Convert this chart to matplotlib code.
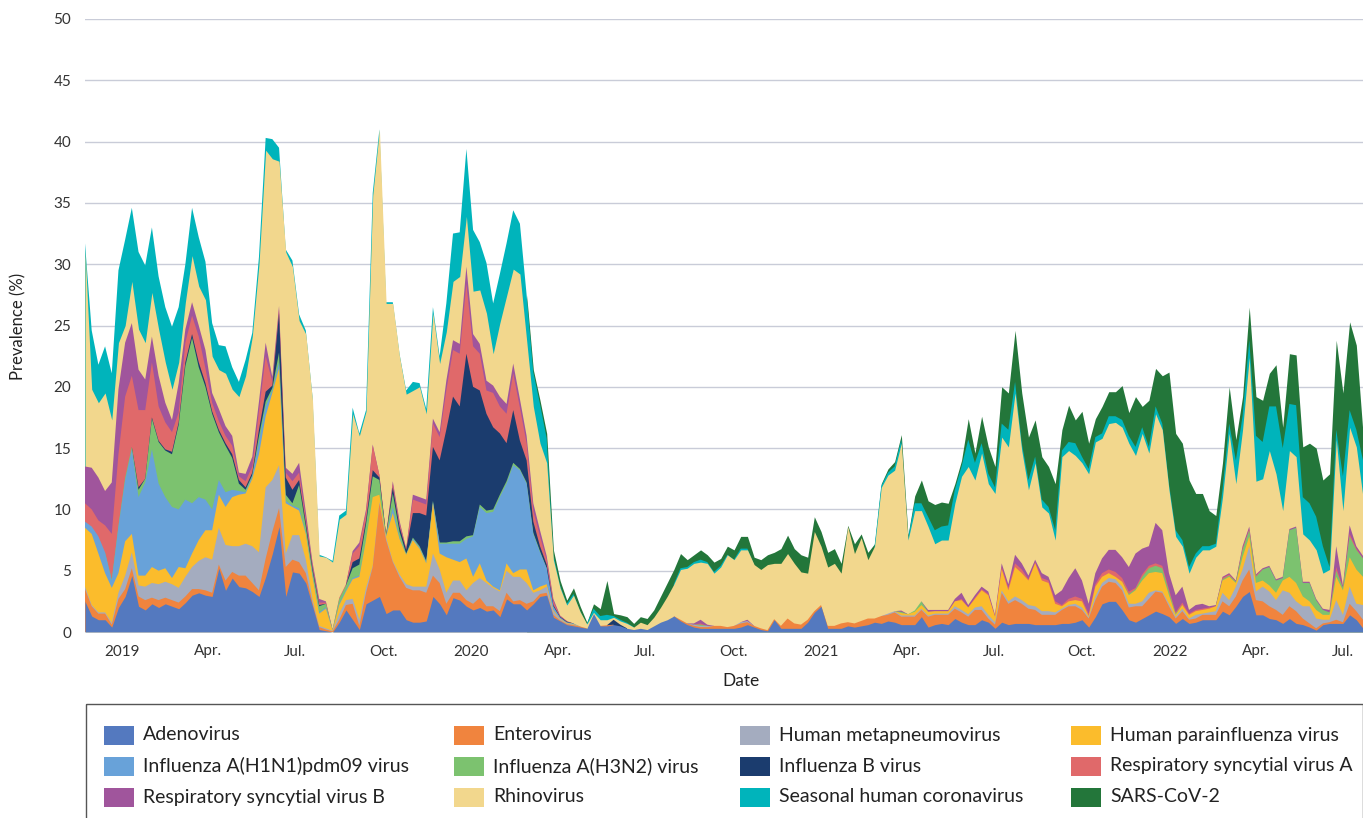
import numpy as np
import pandas as pd
import matplotlib
matplotlib.use("Agg")
from matplotlib import pyplot as plt
from matplotlib.patches import Rectangle

plt.rcParams['font.family'] = ['Lato', 'DejaVu Sans']

# weekly prevalence (%) per virus
weeks = pd.date_range('2018-11-23', periods=192, freq='7D')

adenovirus = [
    2.5, 1.3, 1.0, 1.0, 0.4, 2.0, 2.9, 4.6, 2.1, 1.8,
    2.3, 2.0, 2.3, 2.1, 1.9, 2.4, 3.0, 3.2, 3.0, 2.9,
    5.2, 3.4, 4.4, 3.7, 3.6, 3.3, 2.9, 4.5, 6.4, 8.6,
    2.9, 4.9, 4.8, 4.0, 2.1, 0.2, 0.1, 0.0, 0.8, 1.8,
    1.0, 0.2, 2.3, 2.6, 2.9, 1.5, 1.8, 1.8, 1.0, 0.8,
    0.8, 0.9, 2.9, 2.3, 1.4, 2.8, 2.6, 2.1, 1.8, 2.0,
    1.7, 1.8, 1.25, 2.7, 2.3, 2.3, 1.8, 2.3, 2.9, 3.0,
    1.2, 0.9, 0.6, 0.5, 0.4, 0.3, 1.5, 0.5, 0.5, 0.6,
    0.5, 0.3, 0.2, 0.3, 0.2, 0.5, 0.8, 1.0, 1.3, 0.9,
    0.6, 0.4, 0.3, 0.3, 0.3, 0.3, 0.3, 0.3, 0.4, 0.6,
    0.4, 0.2, 0.1, 1.0, 0.3, 0.3, 0.3, 0.3, 0.8, 1.6,
    2.1, 0.3, 0.3, 0.3, 0.5, 0.4, 0.5, 0.6, 0.8, 0.7,
    0.9, 0.8, 0.6, 0.6, 0.6, 1.25, 0.4, 0.6, 0.7, 0.6,
    1.1, 0.8, 0.6, 0.6, 1.0, 0.8, 0.3, 0.8, 0.6, 0.7,
    0.7, 0.7, 0.6, 0.6, 0.6, 0.6, 0.7, 0.7, 0.8, 1.0,
    0.4, 1.25, 2.3, 2.5, 2.5, 1.8, 1.0, 0.8, 1.1, 1.4,
    1.7, 1.5, 1.25, 0.7, 1.1, 0.7, 0.8, 1.0, 1.0, 1.0,
    1.7, 1.4, 2.1, 2.9, 3.3, 1.4, 1.4, 1.1, 1.0, 0.7,
    1.1, 0.7, 0.6, 0.4, 0.15, 0.6, 0.7, 0.7, 0.7, 1.4,
    1.0, 0.3]

enterovirus = [
    1.0, 0.8, 0.5, 0.5, 0.2, 0.7, 0.6, 0.6, 0.8, 0.8,
    0.5, 0.6, 0.5, 0.5, 0.5, 0.5, 0.5, 0.3, 0.4, 0.3,
    0.3, 0.8, 0.5, 0.9, 1.0, 0.7, 0.5, 1.5, 1.8, 1.5,
    2.4, 1.0, 0.9, 0.8, 0.3, 0.2, 0.1, 0.05, 0.2, 0.4,
    1.3, 0.3, 0.9, 2.7, 7.6, 6.0, 3.9, 2.7, 2.6, 2.6,
    2.6, 2.3, 1.7, 1.7, 0.9, 0.4, 0.6, 0.5, 0.5, 0.8,
    0.4, 0.3, 0.45, 0.5, 0.2, 0.3, 0.5, 0.2, 0.2, 0.2,
    0.2, 0.05, 0.05, 0.05, 0.05, 0.0, 0.0, 0.0, 0.05, 0.0,
    0.0, 0.0, 0.0, 0.0, 0.0, 0.0, 0.0, 0.0, 0.0, 0.1,
    0.1, 0.1, 0.1, 0.1, 0.2, 0.2, 0.1, 0.2, 0.3, 0.2,
    0.1, 0.1, 0.05, 0.05, 0.2, 0.8, 0.4, 0.3, 0.2, 0.1,
    0.1, 0.2, 0.2, 0.4, 0.3, 0.3, 0.4, 0.5, 0.3, 0.6,
    0.5, 0.8, 0.65, 0.65, 0.65, 0.55, 0.85, 0.8, 0.7, 0.8,
    0.8, 0.8, 0.65, 1.2, 0.8, 0.3, 0.3, 2.4, 1.7, 1.9,
    1.6, 1.2, 1.2, 0.8, 0.8, 0.8, 1.1, 1.4, 1.3, 0.8,
    0.7, 1.35, 1.4, 1.6, 1.5, 1.6, 1.0, 1.3, 1.0, 1.3,
    1.6, 1.7, 0.85, 0.4, 0.6, 0.3, 0.3, 0.4, 0.4, 0.4,
    0.8, 0.7, 0.8, 1.3, 1.8, 1.2, 1.1, 1.0, 0.8, 0.7,
    1.0, 1.0, 0.5, 0.3, 0.15, 0.1, 0.1, 0.3, 0.1, 0.9,
    0.7, 0.7]

metapneumovirus = [
    0.2, 0.1, 0.1, 0.1, 0.15, 0.5, 1.1, 1.3, 0.9, 1.1,
    1.2, 1.3, 1.3, 1.3, 1.2, 1.6, 1.8, 2.3, 2.7, 2.7,
    3.0, 2.9, 2.1, 2.4, 2.6, 3.0, 3.1, 5.8, 4.2, 3.5,
    1.1, 2.0, 2.2, 1.1, 0.3, 0.1, 0.1, 0.05, 0.5, 0.4,
    0.4, 0.5, 0.4, 0.1, 0.1, 0.2, 0.1, 0.2, 0.3, 0.3,
    0.3, 0.5, 1.8, 1.1, 0.9, 1.0, 1.0, 0.8, 1.7, 1.6,
    1.9, 1.5, 1.6, 1.8, 2.0, 1.9, 1.7, 0.7, 0.3, 0.5,
    0.3, 0.1, 0.05, 0.05, 0.0, 0.0, 0.0, 0.0, 0.0, 0.0,
    0.0, 0.0, 0.0, 0.0, 0.0, 0.0, 0.0, 0.0, 0.0, 0.0,
    0.0, 0.1, 0.1, 0.1, 0.0, 0.0, 0.0, 0.0, 0.1, 0.1,
    0.0, 0.0, 0.0, 0.0, 0.0, 0.0, 0.0, 0.0, 0.0, 0.0,
    0.0, 0.0, 0.0, 0.0, 0.0, 0.0, 0.0, 0.0, 0.0, 0.0,
    0.1, 0.1, 0.1, 0.1, 0.1, 0.1, 0.1, 0.1, 0.1, 0.1,
    0.2, 0.2, 0.2, 0.2, 0.3, 0.3, 0.2, 0.2, 0.2, 0.3,
    0.3, 0.3, 0.3, 0.3, 0.3, 0.2, 0.1, 0.1, 0.2, 0.2,
    0.1, 0.3, 0.3, 0.3, 0.3, 0.3, 0.3, 0.2, 0.4, 0.5,
    0.1, 0.1, 0.2, 0.15, 0.2, 0.1, 0.3, 0.1, 0.2, 0.3,
    0.7, 0.5, 0.8, 0.9, 1.9, 0.7, 1.2, 1.2, 0.8, 2.0,
    1.1, 0.8, 1.0, 1.4, 0.8, 0.3, 0.2, 1.6, 0.6, 1.4,
    0.6, 1.2]

parainfluenza = [
    4.8, 5.8, 4.8, 3.2, 2.85, 1.6, 2.8, 1.5, 0.8, 0.9,
    1.3, 1.1, 1.1, 0.5, 1.7, 0.7, 1.1, 1.7, 2.2, 2.4,
    2.7, 3.1, 4.0, 4.2, 4.1, 5.5, 8.0, 5.8, 7.1, 7.9,
    4.1, 2.3, 2.0, 2.1, 1.8, 1.0, 1.6, 0.05, 0.7, 0.7,
    1.6, 3.5, 3.9, 5.6, 0.6, 0.1, 3.9, 2.9, 2.4, 3.8,
    3.1, 1.9, 4.1, 1.3, 2.9, 1.7, 1.5, 2.6, 0.5, 1.2,
    0.2, 0.1, 0.1, 0.6, 0.3, 0.6, 1.1, 0.2, 0.3, 0.2,
    0.1, 0.05, 0.05, 0.05, 0.0, 0.0, 0.0, 0.0, 0.0, 0.0,
    0.0, 0.0, 0.0, 0.0, 0.0, 0.0, 0.0, 0.0, 0.0, 0.0,
    0.0, 0.0, 0.0, 0.0, 0.0, 0.0, 0.0, 0.0, 0.0, 0.0,
    0.0, 0.0, 0.0, 0.0, 0.0, 0.0, 0.0, 0.0, 0.0, 0.0,
    0.0, 0.0, 0.0, 0.0, 0.0, 0.0, 0.0, 0.0, 0.0, 0.0,
    0.0, 0.0, 0.2, 0.1, 0.3, 0.3, 0.3, 0.2, 0.2, 0.2,
    0.4, 0.8, 0.55, 0.7, 1.3, 1.6, 0.45, 1.7, 0.9, 2.4,
    2.2, 2.0, 3.5, 2.5, 2.3, 0.7, 0.2, 0.3, 0.3, 0.5,
    0.1, 0.8, 0.5, 0.4, 0.2, 0.4, 0.7, 1.1, 1.7, 1.6,
    1.5, 1.5, 0.7, 0.15, 0.3, 0.3, 0.3, 0.3, 0.3, 0.4,
    1.0, 1.9, 0.3, 1.0, 0.8, 0.7, 0.5, 0.5, 0.6, 0.8,
    1.3, 1.5, 0.8, 0.4, 0.7, 0.4, 0.4, 1.9, 2.0, 2.4,
    2.8, 2.3]

flu_h1n1 = [
    0.5, 0.6, 1.4, 1.7, 0.6, 3.8, 5.0, 6.9, 6.4, 7.6,
    9.6, 7.1, 5.8, 5.8, 4.7, 5.6, 4.1, 3.5, 2.5, 1.7,
    1.2, 1.2, 0.6, 0.3, 0.1, 0.2, 1.0, 0.8, 0.2, 0.5,
    0.2, 0.1, 0.2, 0.1, 0.1, 0.1, 0.1, 0.0, 0.1, 0.1,
    0.1, 0.1, 0.0, 0.0, 0.0, 0.0, 0.5, 0.1, 0.0, 0.1,
    0.1, 0.1, 0.1, 0.8, 1.1, 1.3, 1.5, 1.6, 3.3, 4.6,
    5.5, 6.1, 7.6, 6.5, 8.8, 8.1, 7.0, 4.6, 2.8, 1.3,
    0.3, 0.1, 0.05, 0.05, 0.0, 0.0, 0.0, 0.0, 0.0, 0.0,
    0.0, 0.0, 0.0, 0.0, 0.0, 0.0, 0.0, 0.0, 0.0, 0.0,
    0.0, 0.0, 0.0, 0.0, 0.0, 0.0, 0.0, 0.0, 0.0, 0.0,
    0.0, 0.0, 0.0, 0.0, 0.0, 0.0, 0.0, 0.0, 0.0, 0.0,
    0.0, 0.0, 0.0, 0.0, 0.0, 0.0, 0.0, 0.0, 0.0, 0.0,
    0.0, 0.0, 0.0, 0.0, 0.0, 0.0, 0.0, 0.0, 0.0, 0.0,
    0.0, 0.0, 0.0, 0.0, 0.0, 0.0, 0.0, 0.0, 0.0, 0.0,
    0.0, 0.0, 0.0, 0.0, 0.0, 0.0, 0.0, 0.0, 0.0, 0.0,
    0.0, 0.0, 0.0, 0.0, 0.0, 0.0, 0.0, 0.0, 0.0, 0.0,
    0.0, 0.0, 0.0, 0.0, 0.0, 0.0, 0.0, 0.0, 0.0, 0.0,
    0.0, 0.0, 0.0, 0.0, 0.0, 0.0, 0.0, 0.0, 0.0, 0.0,
    0.0, 0.0, 0.0, 0.0, 0.0, 0.0, 0.0, 0.0, 0.0, 0.0,
    0.0, 0.0]

flu_h3n2 = [
    0.0, 0.0, 0.0, 0.0, 0.1, 0.1, 0.2, 0.2, 0.6, 0.3,
    2.5, 3.4, 3.8, 4.3, 6.9, 10.9, 13.5, 10.6, 9.2, 7.8,
    3.9, 3.8, 2.6, 0.6, 0.2, 0.1, 0.5, 0.4, 0.2, 0.8,
    0.5, 0.2, 1.9, 0.5, 0.4, 0.5, 0.3, 0.05, 0.4, 0.4,
    0.8, 0.9, 1.3, 1.7, 1.2, 0.1, 1.1, 0.5, 0.1, 0.1,
    0.1, 0.1, 0.1, 0.1, 0.1, 0.2, 0.2, 0.2, 0.1, 0.2,
    0.2, 0.2, 0.2, 0.2, 0.2, 0.1, 0.1, 0.1, 0.1, 0.0,
    0.0, 0.0, 0.0, 0.0, 0.0, 0.0, 0.0, 0.0, 0.0, 0.0,
    0.0, 0.0, 0.0, 0.0, 0.0, 0.0, 0.0, 0.0, 0.0, 0.0,
    0.0, 0.0, 0.1, 0.0, 0.0, 0.0, 0.0, 0.0, 0.0, 0.0,
    0.0, 0.0, 0.0, 0.0, 0.0, 0.0, 0.0, 0.0, 0.0, 0.0,
    0.0, 0.0, 0.0, 0.0, 0.0, 0.0, 0.0, 0.0, 0.0, 0.0,
    0.0, 0.0, 0.1, 0.0, 0.1, 0.3, 0.0, 0.0, 0.0, 0.0,
    0.0, 0.0, 0.0, 0.0, 0.0, 0.0, 0.0, 0.0, 0.0, 0.0,
    0.0, 0.0, 0.0, 0.0, 0.0, 0.0, 0.0, 0.0, 0.0, 0.0,
    0.0, 0.0, 0.0, 0.0, 0.0, 0.0, 0.1, 0.1, 0.3, 0.4,
    0.5, 0.4, 0.3, 0.1, 0.0, 0.0, 0.0, 0.0, 0.0, 0.0,
    0.1, 0.1, 0.1, 0.6, 0.5, 0.5, 0.9, 1.5, 1.0, 0.2,
    3.8, 4.5, 1.1, 1.5, 0.8, 0.4, 0.2, 0.5, 0.2, 1.7,
    1.6, 1.5]

flu_b = [
    0.0, 0.0, 0.0, 0.0, 0.0, 0.0, 0.0, 0.0, 0.2, 0.0,
    0.1, 0.1, 0.1, 0.2, 0.2, 0.3, 0.3, 0.4, 0.3, 0.2,
    0.2, 0.2, 0.3, 0.3, 0.2, 0.2, 0.5, 0.8, 0.2, 3.2,
    1.4, 1.1, 0.4, 0.3, 0.2, 0.1, 0.0, 0.0, 0.0, 0.0,
    0.5, 0.5, 0.3, 0.5, 0.2, 0.0, 0.5, 0.4, 0.3, 2.0,
    2.7, 3.7, 4.4, 6.7, 9.2, 11.8, 11.0, 14.9, 12.1, 9.3,
    7.9, 6.7, 5.0, 3.1, 4.3, 2.3, 1.8, 0.9, 0.4, 0.3,
    0.1, 0.05, 0.05, 0.0, 0.0, 0.0, 0.0, 0.0, 0.0, 0.4,
    0.1, 0.0, 0.0, 0.0, 0.0, 0.0, 0.0, 0.0, 0.0, 0.0,
    0.0, 0.0, 0.0, 0.0, 0.0, 0.0, 0.0, 0.0, 0.0, 0.0,
    0.0, 0.0, 0.0, 0.0, 0.0, 0.0, 0.0, 0.0, 0.0, 0.0,
    0.0, 0.0, 0.0, 0.0, 0.0, 0.0, 0.0, 0.0, 0.0, 0.0,
    0.0, 0.0, 0.0, 0.0, 0.0, 0.0, 0.0, 0.0, 0.0, 0.0,
    0.0, 0.0, 0.0, 0.0, 0.0, 0.0, 0.0, 0.0, 0.0, 0.0,
    0.0, 0.0, 0.0, 0.0, 0.0, 0.0, 0.0, 0.0, 0.0, 0.0,
    0.0, 0.0, 0.0, 0.0, 0.0, 0.0, 0.0, 0.0, 0.0, 0.0,
    0.0, 0.0, 0.0, 0.0, 0.0, 0.0, 0.0, 0.0, 0.0, 0.0,
    0.0, 0.0, 0.0, 0.0, 0.0, 0.0, 0.0, 0.0, 0.0, 0.0,
    0.0, 0.0, 0.0, 0.0, 0.0, 0.0, 0.0, 0.0, 0.0, 0.0,
    0.0, 0.0]

rsv_a = [
    1.5, 1.4, 1.3, 2.2, 3.7, 5.8, 6.6, 5.8, 6.3, 5.6,
    4.5, 2.8, 2.2, 1.6, 0.8, 1.6, 1.5, 2.1, 1.2, 0.7,
    0.7, 0.6, 0.7, 0.3, 0.5, 0.5, 1.5, 2.9, 0.3, 0.3,
    0.4, 0.7, 0.6, 0.4, 0.2, 0.2, 0.1, 0.0, 0.1, 0.1,
    0.7, 1.0, 0.7, 2.0, 0.2, 0.0, 0.3, 0.3, 0.1, 1.1,
    0.9, 0.9, 1.9, 1.9, 3.2, 3.8, 4.3, 5.7, 3.3, 3.0,
    1.9, 2.8, 2.2, 2.4, 3.0, 2.7, 1.4, 0.9, 0.8, 0.4,
    0.3, 0.05, 0.05, 0.0, 0.0, 0.0, 0.0, 0.0, 0.0, 0.0,
    0.0, 0.0, 0.0, 0.0, 0.0, 0.0, 0.0, 0.0, 0.0, 0.0,
    0.0, 0.0, 0.1, 0.0, 0.0, 0.0, 0.0, 0.0, 0.0, 0.0,
    0.0, 0.0, 0.0, 0.0, 0.0, 0.0, 0.0, 0.0, 0.0, 0.0,
    0.0, 0.0, 0.0, 0.0, 0.0, 0.0, 0.0, 0.0, 0.0, 0.0,
    0.0, 0.0, 0.0, 0.0, 0.0, 0.0, 0.0, 0.0, 0.0, 0.0,
    0.0, 0.1, 0.0, 0.1, 0.1, 0.1, 0.0, 0.2, 0.2, 0.3,
    0.3, 0.1, 0.1, 0.2, 0.2, 0.2, 0.1, 0.2, 0.3, 0.2,
    0.2, 0.2, 0.3, 0.3, 0.4, 0.3, 0.2, 0.1, 0.2, 0.2,
    0.2, 0.2, 0.2, 0.1, 0.2, 0.1, 0.1, 0.1, 0.1, 0.0,
    0.1, 0.1, 0.0, 0.1, 0.1, 0.1, 0.0, 0.0, 0.0, 0.0,
    0.0, 0.0, 0.0, 0.0, 0.0, 0.0, 0.0, 0.3, 0.0, 0.2,
    0.1, 0.0]

rsv_b = [
    3.0, 3.4, 3.5, 2.8, 4.2, 5.3, 4.4, 4.3, 3.3, 2.5,
    2.1, 2.5, 1.6, 1.0, 2.4, 1.1, 1.1, 0.9, 1.5, 0.8,
    1.0, 0.8, 0.8, 0.3, 0.6, 0.8, 0.8, 1.1, 0.4, 0.3,
    0.4, 0.6, 0.8, 0.5, 0.3, 0.3, 0.1, 0.0, 0.0, 0.0,
    0.2, 0.3, 0.2, 0.1, 0.0, 0.0, 0.2, 0.2, 0.0, 0.4,
    0.4, 0.4, 0.4, 0.4, 0.8, 0.8, 0.8, 1.4, 1.0, 0.8,
    0.8, 0.6, 0.8, 0.8, 0.8, 0.7, 0.6, 0.6, 0.5, 0.3,
    0.2, 0.05, 0.0, 0.0, 0.0, 0.0, 0.0, 0.0, 0.0, 0.0,
    0.0, 0.0, 0.0, 0.0, 0.0, 0.0, 0.0, 0.0, 0.0, 0.0,
    0.0, 0.1, 0.3, 0.1, 0.0, 0.0, 0.0, 0.0, 0.0, 0.1,
    0.0, 0.0, 0.0, 0.0, 0.0, 0.0, 0.0, 0.0, 0.0, 0.0,
    0.0, 0.0, 0.0, 0.0, 0.0, 0.0, 0.0, 0.0, 0.0, 0.0,
    0.0, 0.0, 0.1, 0.0, 0.0, 0.0, 0.15, 0.1, 0.1, 0.1,
    0.2, 0.5, 0.2, 0.2, 0.2, 0.2, 0.15, 0.3, 0.3, 0.7,
    0.5, 0.3, 0.2, 0.4, 0.3, 0.5, 1.2, 1.7, 2.3, 1.5,
    0.8, 0.9, 1.2, 1.6, 1.8, 1.7, 2.0, 2.8, 2.1, 1.6,
    3.3, 2.9, 1.3, 1.4, 1.3, 0.3, 0.4, 0.4, 0.1, 0.1,
    0.1, 0.1, 0.1, 0.2, 0.2, 0.1, 0.1, 0.1, 0.1, 0.1,
    0.1, 0.1, 0.1, 0.1, 0.1, 0.1, 0.2, 1.7, 0.2, 0.7,
    0.2, 0.2]

rhinovirus = [
    17.7, 6.4, 6.1, 8.0, 5.1, 3.8, 1.4, 3.4, 3.3, 3.0,
    3.6, 3.8, 3.3, 2.5, 1.7, 2.2, 3.8, 3.2, 4.1, 3.0,
    3.2, 4.3, 3.8, 6.2, 8.0, 9.8, 11.2, 15.7, 17.8, 11.8,
    17.6, 16.9, 11.6, 14.5, 13.2, 3.5, 3.6, 5.5, 6.4, 5.7,
    11.2, 8.7, 8.0, 20.3, 28.2, 18.9, 14.5, 13.4, 12.6, 8.5,
    9.0, 7.0, 8.6, 5.6, 4.0, 4.8, 5.5, 4.1, 3.5, 4.4,
    5.5, 2.6, 6.0, 8.8, 7.7, 10.2, 7.8, 7.9, 7.1, 7.6,
    3.2, 2.25, 1.3, 2.3, 1.2, 0.35, 0.1, 0.5, 0.45, 0.2,
    0.3, 0.4, 0.2, 0.5, 0.4, 0.7, 1.2, 1.9, 2.6, 4.1,
    4.5, 4.9, 4.7, 5.0, 4.3, 4.8, 5.9, 5.4, 5.9, 5.7,
    5.0, 4.8, 5.35, 4.55, 5.1, 5.3, 4.9, 4.3, 3.8, 6.5,
    4.8, 4.8, 5.1, 4.1, 7.8, 5.7, 6.8, 4.8, 5.9, 10.5,
    11.3, 11.5, 13.65, 6.05, 8.15, 7.4, 6.8, 5.4, 5.7, 5.7,
    7.8, 9.5, 11.3, 9.4, 10.9, 8.8, 9.9, 10.3, 11.2, 13.2,
    9.2, 7.0, 7.9, 5.4, 5.2, 4.5, 10.9, 10.4, 9.2, 9.6,
    10.6, 10.7, 9.8, 10.3, 10.4, 10.6, 10.1, 8.0, 9.4, 7.6,
    8.9, 8.2, 6.8, 4.8, 3.3, 3.0, 3.9, 4.4, 4.6, 4.8,
    6.5, 11.4, 7.9, 9.5, 13.8, 7.6, 7.3, 9.4, 8.6, 5.4,
    6.4, 5.7, 3.9, 3.4, 4.0, 2.9, 3.3, 8.7, 6.1, 8.0,
    8.1, 4.8]

coronavirus = [
    0.5, 4.8, 3.1, 3.8, 3.8, 5.9, 7.0, 6.0, 6.3, 6.3,
    5.3, 4.3, 4.5, 5.1, 4.5, 3.1, 3.9, 4.0, 3.1, 2.7,
    2.0, 2.2, 1.8, 1.2, 1.3, 0.3, 0.6, 1.0, 1.6, 1.1,
    0.2, 0.5, 0.5, 0.3, 0.3, 0.1, 0.0, 0.1, 0.3, 0.3,
    0.5, 0.2, 0.1, 0.2, 0.0, 0.1, 0.1, 0.2, 0.3, 0.7,
    0.3, 0.4, 0.5, 0.6, 2.3, 3.9, 3.6, 5.5, 5.0, 3.9,
    4.1, 4.1, 4.0, 4.3, 4.8, 4.1, 3.7, 2.8, 3.2, 2.0,
    0.4, 0.2, 0.1, 0.1, 0.05, 0.0, 0.3, 0.3, 0.4, 0.1,
    0.1, 0.05, 0.0, 0.0, 0.0, 0.0, 0.0, 0.0, 0.0, 0.1,
    0.1, 0.1, 0.2, 0.1, 0.1, 0.1, 0.0, 0.0, 0.1, 0.1,
    0.0, 0.0, 0.0, 0.0, 0.0, 0.0, 0.0, 0.0, 0.0, 0.0,
    0.0, 0.0, 0.0, 0.0, 0.0, 0.0, 0.0, 0.0, 0.0, 0.1,
    0.2, 0.3, 0.3, 0.1, 0.6, 0.6, 0.8, 1.1, 1.1, 1.2,
    1.1, 0.8, 2.2, 1.4, 0.8, 0.8, 0.5, 1.1, 1.4, 0.9,
    0.6, 0.8, 0.5, 0.6, 0.5, 0.8, 0.5, 0.7, 1.0, 0.5,
    0.4, 0.4, 0.4, 0.6, 0.5, 0.6, 0.6, 0.7, 0.5, 0.5,
    0.6, 0.5, 0.5, 0.5, 0.5, 0.5, 0.3, 0.3, 0.3, 0.2,
    0.6, 0.8, 1.9, 1.1, 1.4, 3.7, 3.0, 3.6, 5.5, 5.1,
    3.8, 4.2, 3.0, 3.0, 2.7, 2.2, 0.2, 0.8, 2.8, 1.4,
    1.4, 3.0]

sars_cov_2 = [
    0.0, 0.0, 0.0, 0.0, 0.0, 0.0, 0.0, 0.0, 0.0, 0.0,
    0.0, 0.0, 0.0, 0.0, 0.0, 0.0, 0.0, 0.0, 0.0, 0.0,
    0.0, 0.0, 0.0, 0.0, 0.0, 0.0, 0.0, 0.0, 0.0, 0.0,
    0.0, 0.0, 0.0, 0.0, 0.0, 0.0, 0.0, 0.0, 0.0, 0.0,
    0.0, 0.0, 0.0, 0.0, 0.0, 0.0, 0.0, 0.0, 0.0, 0.0,
    0.0, 0.0, 0.0, 0.0, 0.0, 0.0, 0.0, 0.0, 0.0, 0.0,
    0.0, 0.0, 0.0, 0.0, 0.0, 0.0, 0.0, 0.2, 0.3, 0.4,
    0.4, 0.4, 0.3, 0.5, 0.4, 0.15, 0.4, 0.6, 2.8, 0.2,
    0.4, 0.5, 0.3, 0.45, 0.5, 0.6, 0.9, 1.1, 1.2, 1.2,
    0.6, 0.6, 0.8, 0.6, 0.8, 0.6, 0.7, 0.8, 1.0, 1.0,
    0.6, 0.8, 0.8, 0.9, 1.2, 1.5, 1.2, 1.4, 1.3, 1.2,
    1.2, 1.2, 1.2, 0.8, 0.1, 0.8, 0.3, 0.6, 0.2, 0.2,
    0.3, 0.4, 0.4, 0.3, 0.6, 1.9, 1.3, 2.1, 2.0, 1.8,
    0.5, 0.5, 1.7, 0.8, 2.2, 2.2, 1.7, 3.0, 3.0, 4.2,
    4.1, 3.5, 3.0, 3.5, 3.3, 3.8, 1.7, 3.0, 1.9, 3.7,
    2.1, 1.5, 2.2, 2.0, 2.0, 2.8, 1.9, 4.1, 1.7, 3.8,
    3.1, 3.9, 9.1, 7.9, 7.9, 7.1, 4.9, 4.3, 2.9, 2.3,
    2.2, 3.0, 1.7, 1.6, 2.7, 3.2, 3.4, 2.7, 3.4, 1.7,
    4.1, 4.1, 4.1, 4.9, 5.6, 5.4, 7.6, 7.3, 6.8, 7.2,
    6.9, 2.2]

series = [adenovirus, enterovirus, metapneumovirus, parainfluenza,
          flu_h1n1, flu_h3n2, flu_b, rsv_a, rsv_b, rhinovirus,
          coronavirus, sars_cov_2]
names = ['Adenovirus', 'Enterovirus', 'Human metapneumovirus',
         'Human parainfluenza virus', 'Influenza A(H1N1)pdm09 virus',
         'Influenza A(H3N2) virus', 'Influenza B virus',
         'Respiratory syncytial virus A', 'Respiratory syncytial virus B',
         'Rhinovirus', 'Seasonal human coronavirus', 'SARS-CoV-2']
colors = ['#5479bf', '#f0843e', '#a4acbf', '#fbbc2c', '#68a2d9', '#7cc26f',
          '#1b3c6e', '#e0696a', '#a0559c', '#f2d78d', '#00b4bb', '#23763a']

tick_dates = ['2019-01-01', '2019-04-01', '2019-07-01', '2019-10-01',
              '2020-01-01', '2020-04-01', '2020-07-01', '2020-10-01',
              '2021-01-01', '2021-04-01', '2021-07-01', '2021-10-01',
              '2022-01-01', '2022-04-01', '2022-07-01']
tick_labels = ['2019', 'Apr.', 'Jul.', 'Oct.', '2020', 'Apr.', 'Jul.', 'Oct.',
               '2021', 'Apr.', 'Jul.', 'Oct.', '2022', 'Apr.', 'Jul.']

for name, s in zip(names, series):
    if len(s) != len(weeks):
        raise ValueError(f"{name}: {len(s)} values")

W, H = 1363, 818
fig = plt.figure(figsize=(W / 100, H / 100), dpi=100)
ax = fig.add_axes([85 / W, (H - 632) / H, 1278 / W, 613 / H])

# stacked areas: each layer filled from 0 up to its cumulative top, top layer
# first, so neighbours overlap without seams; stretches where a layer is zero
# are skipped so its edge does not tint the layer above
vals = np.array(series)
tops = np.cumsum(vals, axis=0)
for k in range(len(series) - 1, -1, -1):
    nz = vals[k] > 0
    show = nz | np.r_[nz[1:], False] | np.r_[False, nz[:-1]]
    ax.fill_between(weeks, 0, tops[k], where=show, color=colors[k],
                    linewidth=0, zorder=2)

ax.set_xlim(weeks[0], weeks[-1])
ax.set_ylim(0, 50)
ax.set_yticks(np.arange(0, 51, 5))
ax.set_xticks(pd.to_datetime(tick_dates))
ax.set_xticklabels(tick_labels)
ax.tick_params(axis='both', length=0, labelsize=11, colors='#333333')
ax.tick_params(axis='x', pad=9)
ax.tick_params(axis='y', pad=10)
ax.yaxis.grid(True, color='#c9ccd8', linewidth=1.0)
ax.set_axisbelow(True)
for sp in ax.spines.values():
    sp.set_visible(False)

# labels and legend drawn in pixel coordinates
ov = fig.add_axes([0, 0, 1, 1])
ov.set_xlim(0, W)
ov.set_ylim(H, 0)
ov.axis('off')
ov.patch.set_alpha(0)

ov.text(18, 326, 'Prevalence (%)', rotation=90, ha='center', va='center',
        fontsize=12, color='#222222')
ov.text(741, 681, 'Date', ha='center', va='center', fontsize=12.5, color='#222222')

ov.add_patch(Rectangle((85.5, 703.5), 1277, 140, fill=False,
                       edgecolor='#555555', linewidth=1.0))
col_x = [104, 454, 740, 1071]
row_y = [735, 766, 797]
for k, (name, c) in enumerate(zip(names, colors)):
    r, cidx = divmod(k, 4)
    x0, y0 = col_x[cidx], row_y[r]
    ov.add_patch(Rectangle((x0, y0 - 9.5), 30, 19, facecolor=c, edgecolor='none'))
    ov.text(x0 + 39, y0, name, ha='left', va='center', fontsize=14, color='#222222')

fig.savefig('out.png', dpi=100)
